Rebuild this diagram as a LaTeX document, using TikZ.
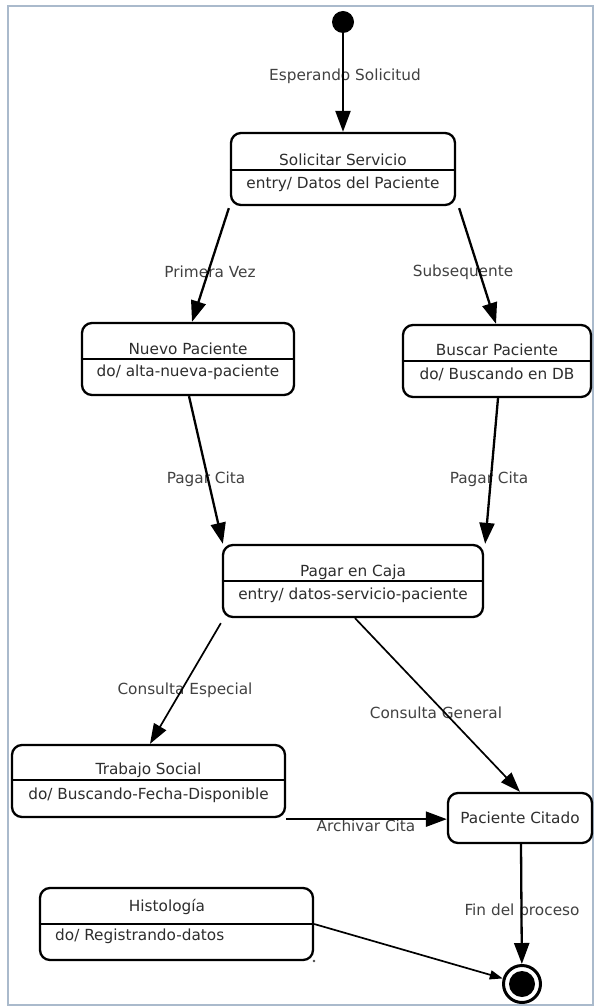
\documentclass[tikz,border=0pt]{standalone}
\usepackage{fontspec}
\setmainfont{DejaVu Sans}
\usetikzlibrary{arrows.meta}
\definecolor{framec}{RGB}{170,186,204}
\definecolor{txt}{RGB}{45,45,45}
\definecolor{lbl}{RGB}{65,65,65}
\tikzset{
 sbox/.style={draw=black, line width=2.3pt, rounded corners=10pt, inner sep=0pt, fill=white},
 divline/.style={line width=1.8pt},
 stxt/.style={font=\fontsize{15.3pt}{18pt}\selectfont, text=txt, inner sep=0pt},
 elbl/.style={font=\fontsize{15.3pt}{18pt}\selectfont, text=lbl, inner sep=0pt},
 trans/.style={line width=2.3pt, -{Triangle[length=21pt,width=15pt]}},
 thintrans/.style={line width=1.7pt, -{Triangle[length=20pt,width=14pt]}},
 smalltrans/.style={line width=1.7pt, -{Triangle[length=13pt,width=9pt]}},
}
\begin{document}
\begin{tikzpicture}[x=1pt,y=-1pt]
\useasboundingbox (0,0) rectangle (595,1008);
\fill[white] (0,0) rectangle (595,1008);
\draw[framec, line width=2.5pt] (8,6) rectangle (593,1005);

% states
\node[sbox, minimum width=224pt, minimum height=72pt] (sol) at (343,169) {};
\draw[divline] (sol.west |- 0,170) -- (sol.east |- 0,170);
\node[stxt] (solt) at (343,160) {Solicitar Servicio};
\node[stxt] (solb) at (343,184) {entry/ Datos del Paciente};

\node[sbox, minimum width=212pt, minimum height=72pt] (nuevo) at (188,359) {};
\draw[divline] (nuevo.west |- 0,359) -- (nuevo.east |- 0,359);
\node[stxt] (nuevot) at (188,349) {Nuevo Paciente};
\node[stxt] (nuevob) at (188,372) {do/ alta-nueva-paciente};

\node[sbox, minimum width=188pt, minimum height=72pt] (buscar) at (497,361) {};
\draw[divline] (buscar.west |- 0,361) -- (buscar.east |- 0,361);
\node[stxt] (buscart) at (497,350) {Buscar Paciente};
\node[stxt] (buscarb) at (497,374) {do/ Buscando en DB};

\node[sbox, minimum width=260pt, minimum height=72pt] (pagar) at (353,581) {};
\draw[divline] (pagar.west |- 0,581) -- (pagar.east |- 0,581);
\node[stxt] (pagart) at (353,572) {Pagar en Caja};
\node[stxt] (pagarb) at (353,595) {entry/ datos-servicio-paciente};

\node[sbox, minimum width=273pt, minimum height=72pt] (trabajo) at (148.5,781) {};
\draw[divline] (trabajo.west |- 0,780) -- (trabajo.east |- 0,780);
\node[stxt] (trabajot) at (148.5,770) {Trabajo Social};
\node[stxt] (trabajob) at (148.5,795) {do/ Buscando-Fecha-Disponible};

\node[sbox, minimum width=144pt, minimum height=50pt] (citado) at (520,818) {};
\node[stxt] (citadot) at (520,818) {Paciente Citado};

\node[sbox, minimum width=273pt, minimum height=72pt] (histo) at (176.5,924) {};
\draw[divline] (histo.west |- 0,924) -- (histo.east |- 0,924);
\node[stxt] (histot) at (167,907) {Histología};
\node[stxt, anchor=west] (histob) at (55,936) {do/ Registrando-datos};
\fill[black!70] (314,961) circle (1.3);

% pseudo states
\node[circle, fill=black, minimum size=22pt, inner sep=0pt] (init) at (343,22) {};
\node[circle, draw=black, line width=3pt, fill=white, minimum size=37pt, inner sep=0pt] (fin) at (522,984) {};
\node[circle, fill=black, minimum size=26pt, inner sep=0pt] (finin) at (fin) {};

% labels
\node[elbl] (l1) at (345,76) {Esperando Solicitud};
\node[elbl] (l2) at (210,272) {Primera Vez};
\node[elbl] (l3) at (463,272) {Subsequente};
\node[elbl] (l4) at (206,479) {Pagar Cita};
\node[elbl] (l5) at (489,479) {Pagar Cita};
\node[elbl] (l6) at (185,690) {Consulta Especial};
\node[elbl] (l7) at (436,713) {Consulta General};
\node[elbl] (l8) at (366,826) {Archivar Cita};
\node[elbl] (l9) at (522,911) {Fin del proceso};

% transitions
\draw[trans] (init) -- (sol.north);
\draw[trans] ([xshift=-1pt,yshift=-2pt]sol.south west) -- ([xshift=4pt]nuevo.north);
\draw[trans] ([xshift=3pt,yshift=-2pt]sol.south east) -- ([xshift=-1pt]buscar.north);
\draw[trans] ([xshift=1pt]nuevo.south) -- ([xshift=1pt]pagar.north west);
\draw[trans] ([xshift=1pt]buscar.south) -- ([xshift=1pt]pagar.north east);
\draw[thintrans] ([xshift=-1pt,yshift=-5pt]pagar.south west) -- ([xshift=1.5pt]trabajo.north);
\draw[thintrans] ([xshift=2pt]pagar.south) -- (citado.north);
\coordinate (archs) at ([yshift=-1pt]trabajo.south east);
\draw[trans] (archs) -- (archs -| citado.west);
\draw[trans] ([xshift=1pt]citado.south) -- (fin);
\draw[smalltrans] (histo.east) -- (fin);
\end{tikzpicture}
\end{document}
